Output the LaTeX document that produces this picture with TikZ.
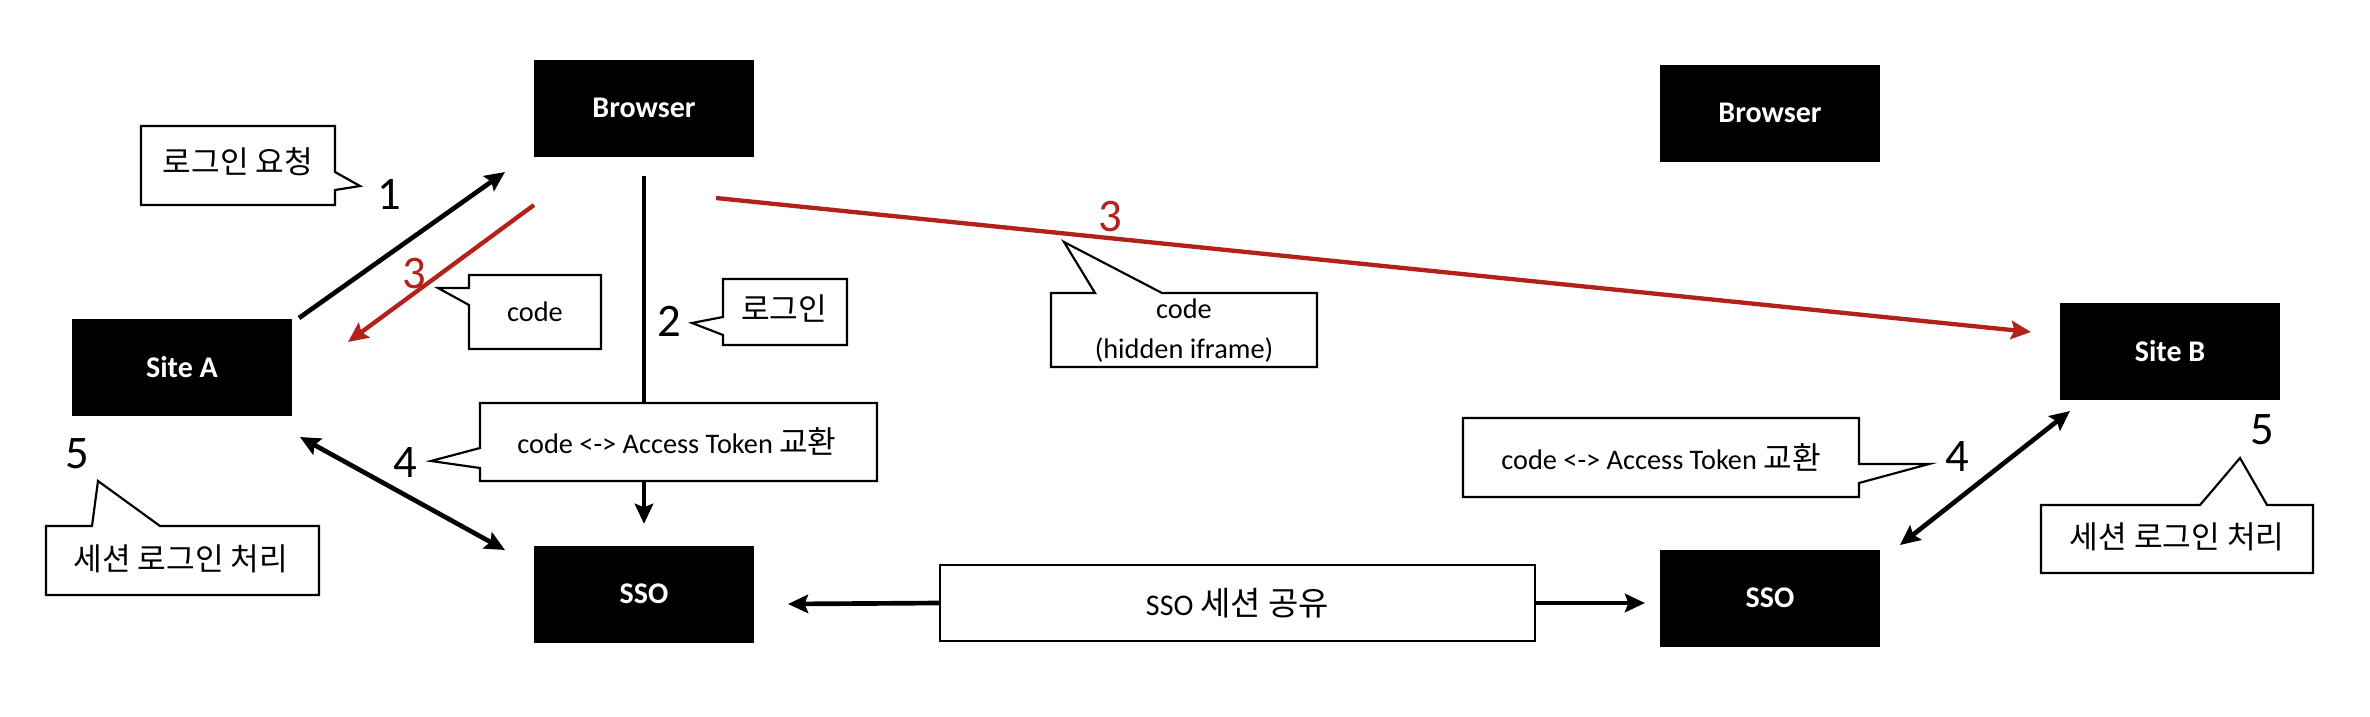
\documentclass[tikz,border=0pt]{standalone}
\usepackage{fontspec}
\setmainfont{Carlito}
\newfontfamily\krfont{Noto Sans CJK KR}[Scale=1.1]
\usetikzlibrary{arrows.meta}
\definecolor{myred}{RGB}{178,34,27}
\begin{document}
\begin{tikzpicture}[x=0.3pt,y=-0.3pt,
  blk/.style={fill=black,text=white,font=\bfseries\fontsize{9}{11}\selectfont,minimum width=66pt,minimum height=29.1pt,inner sep=0pt},
  callout/.style={draw=black,line width=0.65pt,fill=white,line join=miter},
  ctext/.style={font=\fontsize{8.5}{12}\selectfont,align=center,inner sep=0pt},
  num/.style={font=\fontsize{14}{16}\selectfont,inner sep=0pt},
  arr/.style={line width=1.4pt,-{Stealth[length=6pt,width=5.5pt,inset=1pt]}},
  darr/.style={line width=1.4pt,{Stealth[length=6pt,width=5.5pt,inset=1pt]}-{Stealth[length=6pt,width=5.5pt,inset=1pt]}},
  redarr/.style={myred,line width=1.3pt,-{Stealth[length=6pt,width=5.5pt,inset=1pt]}}
]
\useasboundingbox (0,0) rectangle (2370,716);

% boxes
\node[blk] (browserA) at (644,108) {Browser};
\node[blk] (siteA) at (182,367) {Site A};
\node[blk] (ssoA) at (644,594) {SSO};
\node[blk] (browserB) at (1770,113) {Browser};
\node[blk] (ssoB) at (1770,598) {SSO};
\node[blk] (siteB) at (2170,351) {Site B};

% named free ends
\coordinate (a1s) at (299,318);
\coordinate (a1e) at (505,172);
\coordinate (r3s) at (534,205);
\coordinate (r3e) at (348,342);
\coordinate (rbs) at (716,198);
\coordinate (rbe) at (2031,332);
\coordinate (d4s) at (300,437);
\coordinate (d4e) at (505,550);
\coordinate (dbs) at (2070,411);
\coordinate (dbe) at (1900,545);
\coordinate (shl) at (788,604);
\coordinate (shr) at (1645,603);

% connectors
\draw[arr,line width=1.2pt,shorten <=5.7pt,shorten >=6.3pt] (browserA) -- (ssoA);
\draw[arr] (a1s) -- (a1e);
\draw[redarr] (r3s) -- (r3e);
\draw[redarr] (rbs) -- (rbe);
\draw[darr] (d4s) -- (d4e);
\draw[darr] (dbs) -- (dbe);

% share box
\node[draw=black,line width=0.65pt,fill=white,minimum width=178.5pt,minimum height=22.8pt,inner sep=0pt,font=\fontsize{9}{11}\selectfont] (share) at (1237.5,603) {SSO {\krfont 세션 공유}};
\draw[arr] (share.west) -- (shl);
\draw[arr] (share.east) -- (shr);

% callouts
\draw[callout] (141,126) -- (335,126) -- (335,172) -- (360,186) -- (335,190) -- (335,205) -- (141,205) -- cycle;
\node[ctext] (c1) at (238,162) {\krfont 로그인 요청};

\draw[callout] (469,275) -- (601,275) -- (601,349) -- (469,349) -- (469,305) -- (438,288) -- (469,288) -- cycle;
\node[ctext] (c2) at (535,312) {code};

\draw[callout] (723,279) -- (847,279) -- (847,345) -- (723,345) -- (723,335) -- (692,323) -- (723,317) -- cycle;
\node[ctext] (c3) at (784,309) {\krfont 로그인};

\draw[callout] (480,403) -- (877,403) -- (877,481) -- (480,481) -- (480,468) -- (431,461) -- (480,448) -- cycle;
\node[ctext] (c4) at (677,441) {code <-> Access Token {\krfont 교환}};

\draw[callout] (46,526) -- (92,526) -- (98,481) -- (160,526) -- (319,526) -- (319,595) -- (46,595) -- cycle;
\node[ctext] (c5) at (181,559) {\krfont 세션 로그인 처리};

\draw[callout] (1051,293) -- (1095,293) -- (1064,242) -- (1162,293) -- (1317,293) -- (1317,367) -- (1051,367) -- cycle;
\node[ctext] (c6) at (1184,331) {code\\(hidden iframe)};

\draw[callout] (1463,418) -- (1859,418) -- (1859,464) -- (1929,464) -- (1859,483) -- (1859,497) -- (1463,497) -- cycle;
\node[ctext] (c7) at (1661,457) {code <-> Access Token {\krfont 교환}};

\draw[callout] (2041,505) -- (2200,505) -- (2240,458) -- (2267,505) -- (2313,505) -- (2313,573) -- (2041,573) -- cycle;
\node[ctext] (c8) at (2177,537) {\krfont 세션 로그인 처리};

% numbers
\node[num] (n1) at (389,194) {1};
\node[num] (n2) at (669,321) {2};
\node[num,text=myred] (n3a) at (414,274) {3};
\node[num,text=myred] (n3b) at (1110,217) {3};
\node[num] (n4a) at (405,463) {4};
\node[num] (n5a) at (77,454) {5};
\node[num] (n4b) at (1957,457) {4};
\node[num] (n5b) at (2262,430) {5};
\end{tikzpicture}
\end{document}
